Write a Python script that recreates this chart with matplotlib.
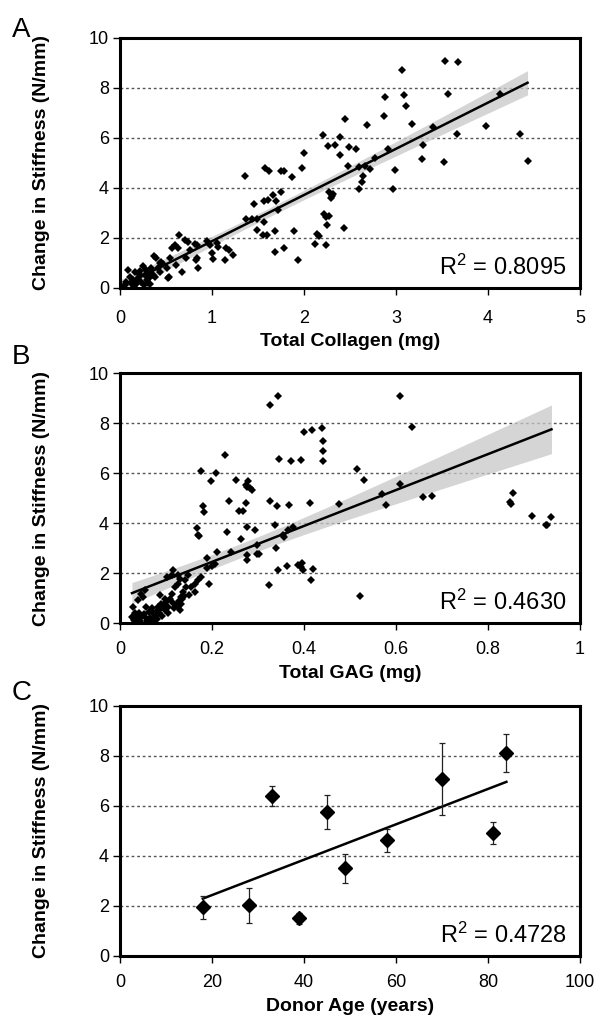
import matplotlib
matplotlib.use("Agg")
import matplotlib.pyplot as plt
import numpy as np

plt.rcParams['font.family'] = ['Liberation Sans', 'DejaVu Sans']
plt.rcParams['mathtext.fontset'] = 'custom'
plt.rcParams['mathtext.rm'] = 'Liberation Sans'
plt.rcParams['mathtext.default'] = 'regular'

# Panel A: total collagen (mg) vs change in stiffness (N/mm)
collagen_x = [0.01, 0.05, 0.07, 0.09, 0.11, 0.12, 0.14, 0.15, 0.16, 0.18, 0.20, 0.21, 0.22, 0.23,
              0.25, 0.26, 0.27, 0.28, 0.29, 0.30, 0.31, 0.32, 0.33, 0.34, 0.34, 0.36, 0.37, 0.38,
              0.39, 0.41, 0.43, 0.44, 0.45, 0.47, 0.51, 0.52, 0.53, 0.54, 0.57, 0.60, 0.61, 0.63,
              0.64, 0.67, 0.71, 0.72, 0.74, 0.76, 0.81, 0.83, 0.84, 0.84, 0.85, 0.95, 0.98, 1.00,
              1.01, 1.05, 1.06, 1.14, 1.15, 1.18, 1.23,
              1.36, 1.37, 1.44, 1.46, 1.49, 1.49, 1.55, 1.56, 1.57, 1.58, 1.60, 1.61, 1.62, 1.66,
              1.68, 1.68, 1.70, 1.72, 1.75, 1.75, 1.78, 1.78, 1.87, 1.89, 1.94, 1.98, 2.00, 2.12,
              2.14, 2.16, 2.21, 2.22, 2.24, 2.24, 2.25, 2.26, 2.27, 2.27, 2.29, 2.30, 2.32, 2.34,
              2.39, 2.39, 2.43, 2.45, 2.48, 2.49, 2.57, 2.60, 2.60, 2.63, 2.64, 2.66, 2.69, 2.72,
              2.77, 2.87, 2.88, 2.91, 2.97, 2.99, 3.07, 3.09, 3.11, 3.17, 3.28, 3.29, 3.40, 3.52,
              3.53, 3.57, 3.66, 3.67, 3.98, 4.13, 4.35, 4.43]
collagen_y = [0.07, 0.13, 0.26, 0.73, 0.46, 0.20, 0.33, 0.05, 0.63, 0.20, 0.40, 0.56, 0.70, 0.26,
              0.90, 0.13, 0.53, 0.72, 0.33, 0.22, 0.56, 0.40, 0.15, 0.60, 0.79, 0.52, 1.30, 0.46,
              1.19, 0.79, 0.66, 1.00, 1.06, 0.95, 0.79, 0.40, 0.46, 1.19, 1.59, 1.72, 0.93, 1.61,
              2.12, 0.66, 1.92, 1.19, 1.83, 1.52, 1.75, 1.12, 1.22, 1.72, 0.79, 1.88, 1.72, 1.42,
              1.15, 1.81, 1.65, 1.12, 1.59, 1.52, 1.32,
              4.47, 2.75, 2.78, 3.37, 2.78, 2.31, 2.12, 3.50, 2.65, 4.79, 2.12, 3.54, 4.70, 3.73,
              2.29, 1.43, 3.50, 3.11, 4.68, 3.84, 4.68, 1.59, 4.46, 2.27, 1.12, 4.80, 5.42, 1.76,
              2.16, 2.10, 6.11, 2.98, 2.85, 1.72, 2.54, 5.69, 2.88, 3.86, 3.60, 3.70, 3.77, 5.73,
              6.04, 5.33, 2.41, 6.75, 4.87, 5.65, 5.56, 4.83, 3.97, 4.26, 4.50, 4.90, 6.53, 4.76,
              5.19, 6.90, 7.63, 5.56, 3.97, 4.74, 8.72, 7.73, 7.30, 6.55, 5.16, 5.73, 6.46, 5.05,
              9.09, 7.78, 6.15, 9.03, 6.48, 7.78, 6.18, 5.09]

# Panel B: total GAG (mg) vs change in stiffness (N/mm)
gag_x = [0.228, 0.175, 0.209, 0.197, 0.253, 0.273, 0.237, 0.273, 0.258, 0.267, 0.180, 0.183,
         0.167, 0.170, 0.172, 0.233, 0.264, 0.211, 0.189, 0.242, 0.275, 0.200, 0.206, 0.193,
         0.115, 0.103, 0.112, 0.125, 0.130, 0.177, 0.170, 0.162, 0.155, 0.162, 0.151, 0.141,
         0.144, 0.137, 0.132, 0.133, 0.126, 0.130, 0.122, 0.125, 0.119, 0.112, 0.097, 0.086,
         0.090, 0.083, 0.079, 0.072, 0.074, 0.068, 0.097, 0.104, 0.054, 0.046, 0.050, 0.039,
         0.028, 0.032, 0.035, 0.057, 0.054, 0.026, 0.030, 0.046, 0.041, 0.148, 0.190,
         0.033, 0.038, 0.044, 0.052, 0.058, 0.062, 0.065, 0.070, 0.076, 0.080, 0.085, 0.088,
         0.092, 0.095, 0.100, 0.105, 0.108, 0.115, 0.118, 0.128, 0.135, 0.140,
         0.343, 0.325, 0.399, 0.417, 0.440, 0.441, 0.441, 0.441, 0.346, 0.371, 0.393, 0.516,
         0.531, 0.279, 0.283, 0.288, 0.275, 0.325, 0.342, 0.368, 0.413, 0.477, 0.275, 0.293,
         0.337, 0.355, 0.357, 0.366, 0.377, 0.298, 0.297, 0.303, 0.339, 0.275, 0.344, 0.362,
         0.388, 0.395, 0.393, 0.397, 0.419, 0.416, 0.324, 0.522,
         0.609, 0.635, 0.569, 0.578, 0.609, 0.658, 0.678, 0.854, 0.848, 0.851, 0.895, 0.925,
         0.929, 0.938]
gag_y = [6.73, 6.10, 6.00, 5.66, 5.72, 5.53, 4.87, 4.81, 4.47, 4.47, 4.67, 4.46,
         3.81, 3.53, 3.48, 3.64, 3.35, 2.84, 2.62, 2.84, 2.71, 2.28, 2.35, 1.58,
         2.11, 1.84, 1.91, 1.91, 1.78, 1.84, 1.71, 1.58, 1.45, 1.25, 1.12, 1.71,
         1.45, 1.25, 1.05, 0.78, 0.65, 0.52, 0.72, 1.58, 1.45, 1.18, 0.98, 1.12,
         0.78, 0.65, 0.45, 0.39, 0.12, 0.05, 0.52, 0.65, 1.31, 1.18, 1.05, 0.92,
         0.65, 0.39, 0.25, 0.65, 0.25, 0.25, 0.12, 0.25, 0.39, 1.91, 2.20,
         0.05, 0.15, 0.08, 0.35, 0.10, 0.45, 0.20, 0.60, 0.28, 0.15, 0.40, 0.55,
         0.30, 0.70, 0.85, 0.40, 0.95, 0.80, 0.60, 0.90, 0.95, 1.10,
         9.06, 8.71, 7.62, 7.72, 7.78, 7.29, 6.89, 6.47, 6.56, 6.49, 6.53, 6.16,
         5.72, 5.67, 5.41, 5.33, 5.46, 4.86, 4.66, 4.70, 4.79, 4.74, 3.86, 3.73,
         3.94, 3.51, 3.44, 3.73, 3.84, 3.11, 2.78, 2.78, 3.02, 2.54, 2.14, 2.27,
         2.31, 2.40, 2.24, 2.11, 2.18, 1.71, 1.54, 1.10,
         9.08, 7.82, 5.17, 4.73, 5.57, 5.03, 5.09, 5.19, 4.83, 4.77, 4.30, 3.93,
         3.94, 4.26]

# Panel C: donor age (years) vs mean change in stiffness, with error bars
donor_age = [18, 28, 33, 39, 45, 49, 58, 70, 81, 84]
age_stiffness = [1.95, 2.03, 6.41, 1.51, 5.76, 3.51, 4.64, 7.08, 4.93, 8.13]
age_error = [0.47, 0.71, 0.41, 0.22, 0.68, 0.57, 0.46, 1.44, 0.45, 0.77]

r2_labels = ['R$^2$ = 0.8095', 'R$^2$ = 0.4630', 'R$^2$ = 0.4728']
x_labels = ['Total Collagen (mg)', 'Total GAG (mg)', 'Donor Age (years)']
x_limits = [(0, 5), (0, 1), (0, 100)]
x_ticks = [[0, 1, 2, 3, 4, 5], [0, 0.2, 0.4, 0.6, 0.8, 1], [0, 20, 40, 60, 80, 100]]
x_ticklabels = [['0', '1', '2', '3', '4', '5'], ['0', '0.2', '0.4', '0.6', '0.8', '1'],
                ['0', '20', '40', '60', '80', '100']]
panel_letters = ['A', 'B', 'C']

fig = plt.figure(figsize=(6.02, 10.27), dpi=100)
W, H = 602, 1027
tops = [38, 373, 706]
axes = []
for top in tops:
    ax = fig.add_axes([120 / W, 1 - (top + 250) / H, 460 / W, 250 / H])
    axes.append(ax)


def fit_with_band(ax, x, y):
    x = np.asarray(x)
    y = np.asarray(y)
    slope, icpt = np.polyfit(x, y, 1)
    xg = np.linspace(x.min(), x.max(), 100)
    yg = slope * xg + icpt
    n = len(x)
    resid = y - (slope * x + icpt)
    s = np.sqrt(np.sum(resid ** 2) / (n - 2))
    sxx = np.sum((x - x.mean()) ** 2)
    se = s * np.sqrt(1 / n + (xg - x.mean()) ** 2 / sxx)
    ax.fill_between(xg, yg - 1.97 * se, yg + 1.97 * se, color='#c8c8c8', alpha=0.75,
                    lw=0, zorder=2)
    ax.plot(xg, yg, color='black', lw=1.8, zorder=3)


# A
fit_with_band(axes[0], collagen_x, collagen_y)
axes[0].plot(collagen_x, collagen_y, 'D', color='black', ms=3.8, mew=0, zorder=4)

# B
fit_with_band(axes[1], gag_x, gag_y)
axes[1].plot(gag_x, gag_y, 'D', color='black', ms=3.8, mew=0, zorder=4)

# C
ax = axes[2]
ax.errorbar(donor_age, age_stiffness, yerr=age_error, fmt='D', color='black', ms=7,
            ecolor='#222222', elinewidth=0.9, capsize=2.3, capthick=0.9, zorder=4)
sl, ic = np.polyfit(donor_age, age_stiffness, 1)
xa = np.array([min(donor_age), max(donor_age)])
ax.plot(xa, sl * xa + ic, color='black', lw=1.8, zorder=3)

label_y = [-0.18, -0.167, -0.167]
tick_pad = [11, 8, 8]
for i, ax in enumerate(axes):
    ax.set_xlim(*x_limits[i])
    ax.set_ylim(0, 10)
    ax.set_xticks(x_ticks[i])
    ax.set_xticklabels(x_ticklabels[i])
    ax.set_yticks([0, 2, 4, 6, 8, 10])
    ax.tick_params(direction='out', length=5, width=1, labelsize=13, pad=3,
                   top=False, right=False)
    ax.tick_params(axis='x', pad=tick_pad[i])
    for sp in ax.spines.values():
        sp.set_linewidth(2.2)
        sp.set_color('black')
    ax.yaxis.grid(True, color='#555555', lw=1.0, linestyle=(0, (2, 2)))
    ax.set_axisbelow(True)
    ax.set_xlabel(x_labels[i], fontsize=14, fontweight='bold')
    ax.set_ylabel('Change in Stiffness (N/mm)', fontsize=14, fontweight='bold')
    ax.xaxis.set_label_coords(0.5, label_y[i])
    ax.yaxis.set_label_coords(-0.153, 0.5)
    ax.text(0.971, 0.054, r2_labels[i], transform=ax.transAxes, ha='right',
            va='baseline', fontsize=17)

letter_base = [37, 364, 700]
for letter, yb in zip(panel_letters, letter_base):
    fig.text(12 / W, 1 - yb / H, letter, fontsize=20, va='baseline', ha='left')

fig.savefig('out.png', dpi=100)
